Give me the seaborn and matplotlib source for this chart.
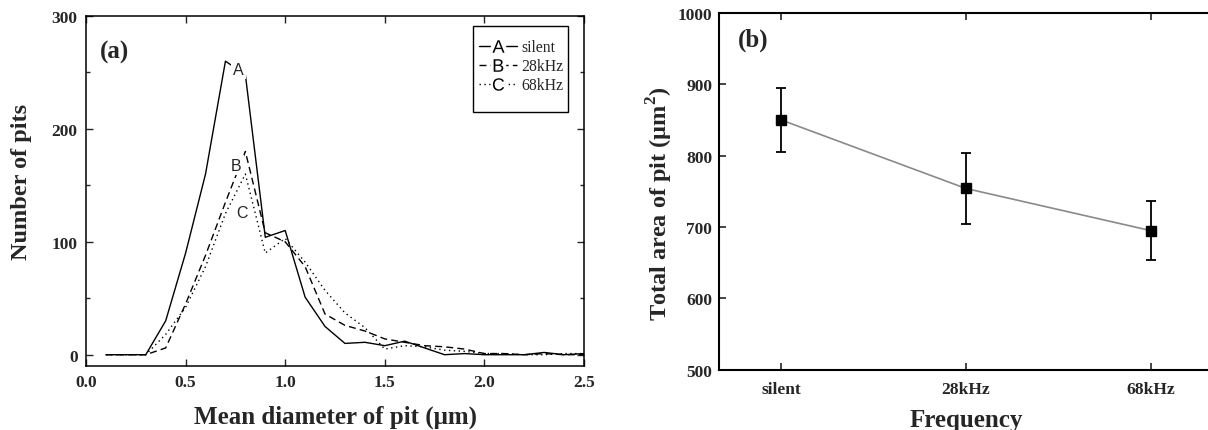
import numpy as np
import pandas as pd
import matplotlib
matplotlib.use("Agg")
import matplotlib.pyplot as plt
from matplotlib.lines import Line2D
from matplotlib.patches import Rectangle
from matplotlib.ticker import MultipleLocator, FormatStrFormatter
import seaborn as sns

# ---- panel (a): pit size distributions ----
diameter = [0.1, 0.2, 0.3, 0.4, 0.5, 0.6, 0.7, 0.8, 0.9, 1.0, 1.1, 1.2, 1.3,
            1.4, 1.5, 1.6, 1.7, 1.8, 1.9, 2.0, 2.1, 2.2, 2.3, 2.4, 2.5]
pits_silent = [0, 0, 0, 30, 90, 160, 260, 248, 104, 110, 51, 25, 10,
               11, 8, 12, 6, 0, 1, 0, 0, 0, 2, 0, 1]
pits_28khz = [0, 0, 0, 6, 45, 88, 135, 180, 108, 100, 78, 36, 26,
              21, 14, 11, 8, 7, 5, 1, 1, 0, 1, 0, 0]
pits_68khz = [0, 0, 0, 18, 42, 78, 125, 160, 90, 103, 82, 57, 37,
              24, 5, 8, 7, 4, 3, 1, 1, 0, 0, 1, 1]
series_names = ["silent", "28kHz", "68kHz"]
series_letters = ["A", "B", "C"]

# ---- panel (b): total pit area ----
frequency = ["silent", "28kHz", "68kHz"]
total_area = [850, 754, 695]
area_err = [45, 50, 41]

sns.set_style("ticks")
plt.rcParams["font.family"] = ["Liberation Serif", "DejaVu Serif"]
plt.rcParams["mathtext.fontset"] = "custom"
plt.rcParams["mathtext.rm"] = "Liberation Serif:bold"
plt.rcParams["mathtext.bf"] = "Liberation Serif:bold"
plt.rcParams["mathtext.sf"] = "Liberation Sans"

fig = plt.figure(figsize=(12.08, 4.31), dpi=100)
ax_a = fig.add_axes([86 / 1208, (431 - 367) / 431, 498 / 1208, 350 / 431])
ax_b = fig.add_axes([719 / 1208, (431 - 370.7) / 431, 494 / 1208, 356.7 / 431])

long_df = pd.DataFrame({
    "diameter": diameter * 3,
    "pits": pits_silent + pits_28khz + pits_68khz,
    "series": sum([[n] * len(diameter) for n in series_names], []),
})
line_styles = {"silent": "", "28kHz": (5, 3), "68kHz": (1, 2.5)}
sns.lineplot(data=long_df, x="diameter", y="pits", style="series",
             dashes=line_styles, color="black", linewidth=1.0,
             legend=False, ax=ax_a, zorder=2)

# letters at the curve peaks (white backing breaks the line there)
peak_labels = {"A": (0.765, 253, True), "B": (0.753, 168, True),
               "C": (0.785, 126, False)}
for letter, (lx, ly, boxed) in peak_labels.items():
    kw = dict(ha="center", va="center", fontsize=11.5,
              family="Liberation Sans", zorder=5)
    if boxed:
        kw["bbox"] = dict(boxstyle="square,pad=0.15", fc="white", ec="none")
    ax_a.text(lx, ly, letter, **kw)

ax_a.set_xlim(0, 2.5)
ax_a.set_ylim(-10, 300)
ax_a.xaxis.set_major_locator(MultipleLocator(0.5))
ax_a.xaxis.set_major_formatter(FormatStrFormatter("%.1f"))
ax_a.yaxis.set_major_locator(MultipleLocator(100))
ax_a.yaxis.set_minor_locator(MultipleLocator(50))
ax_a.tick_params(which="both", direction="in", top=True, right=True,
                 labelsize=12.5, width=1.0, pad=6)
ax_a.tick_params(which="major", length=5)
ax_a.tick_params(which="minor", length=3)
for lab in ax_a.get_xticklabels() + ax_a.get_yticklabels():
    lab.set_fontweight("bold")
for sp in ax_a.spines.values():
    sp.set_linewidth(1.1)
    sp.set_color("black")
ax_a.set_xlabel("Mean diameter of pit (μm)", fontsize=18, fontweight="bold",
                labelpad=10)
ax_a.set_ylabel("Number of pits", fontsize=17.5, fontweight="bold")
ax_a.yaxis.set_label_coords(-0.108, 0.53)
ax_a.text(0.028, 0.90, "(a)", transform=ax_a.transAxes, fontsize=18,
          fontweight="bold", ha="left", va="center")


def legend_entry(letter, style):
    base = Line2D([], [], color="black", lw=1.0, linestyle=style)
    blank = Line2D([], [], linestyle="none", marker="s", markersize=10,
                   markerfacecolor="white", markeredgecolor="white")
    mark = Line2D([], [], linestyle="none",
                  marker=rf"$\mathsf{{{letter}}}$", markersize=9,
                  markeredgewidth=0, color="black")
    return (base, blank, mark)


leg_styles = ["-", (0, (5, 3)), (0, (1, 2.5))]
handles = [legend_entry(l, s) for l, s in zip(series_letters, leg_styles)]
leg = ax_a.legend(handles, series_names, loc="upper right",
                  bbox_to_anchor=(0.972, 0.952), borderaxespad=0,
                  fontsize=11.3, handlelength=2.4, handletextpad=0.3,
                  labelspacing=0.2, frameon=False, borderpad=0.4)
# legend box, taller than its three entries
ax_a.add_patch(Rectangle((0.777, 0.726), 0.191, 0.245,
                         transform=ax_a.transAxes, fill=False,
                         edgecolor="black", linewidth=1.0, zorder=6))

# ---- panel (b) ----
area_df = pd.DataFrame({"Frequency": frequency, "Area": total_area})
sns.lineplot(data=area_df, x="Frequency", y="Area", sort=False,
             color="#8a8a8a", linewidth=1.2, ax=ax_b, zorder=2)
ax_b.errorbar(area_df["Frequency"], area_df["Area"], yerr=area_err,
              fmt="s", color="black", markersize=6.5, capsize=3.5,
              elinewidth=1.3, capthick=1.3, zorder=3)
ax_b.set_xlim(-0.338, 2.338)
ax_b.set_ylim(500, 1000)
ax_b.yaxis.set_major_locator(MultipleLocator(100))
ax_b.tick_params(which="both", direction="in", top=True, right=False,
                 labelsize=12.5, width=1.2, length=5)
ax_b.tick_params(axis="x", pad=8)
ax_b.tick_params(axis="y", pad=5)
for lab in ax_b.get_xticklabels() + ax_b.get_yticklabels():
    lab.set_fontweight("bold")
for sp in ax_b.spines.values():
    sp.set_linewidth(1.5)
    sp.set_color("black")
ax_b.set_xlabel("Frequency", fontsize=18, fontweight="bold", labelpad=8)
ax_b.set_ylabel("Total area of pit (μm$^{2}$)", fontsize=17.5,
                fontweight="bold")
ax_b.yaxis.set_label_coords(-0.089, 0.469)
ax_b.text(0.038, 0.927, "(b)", transform=ax_b.transAxes, fontsize=18,
          fontweight="bold", ha="left", va="center")

fig.savefig("out.png", dpi=100)
